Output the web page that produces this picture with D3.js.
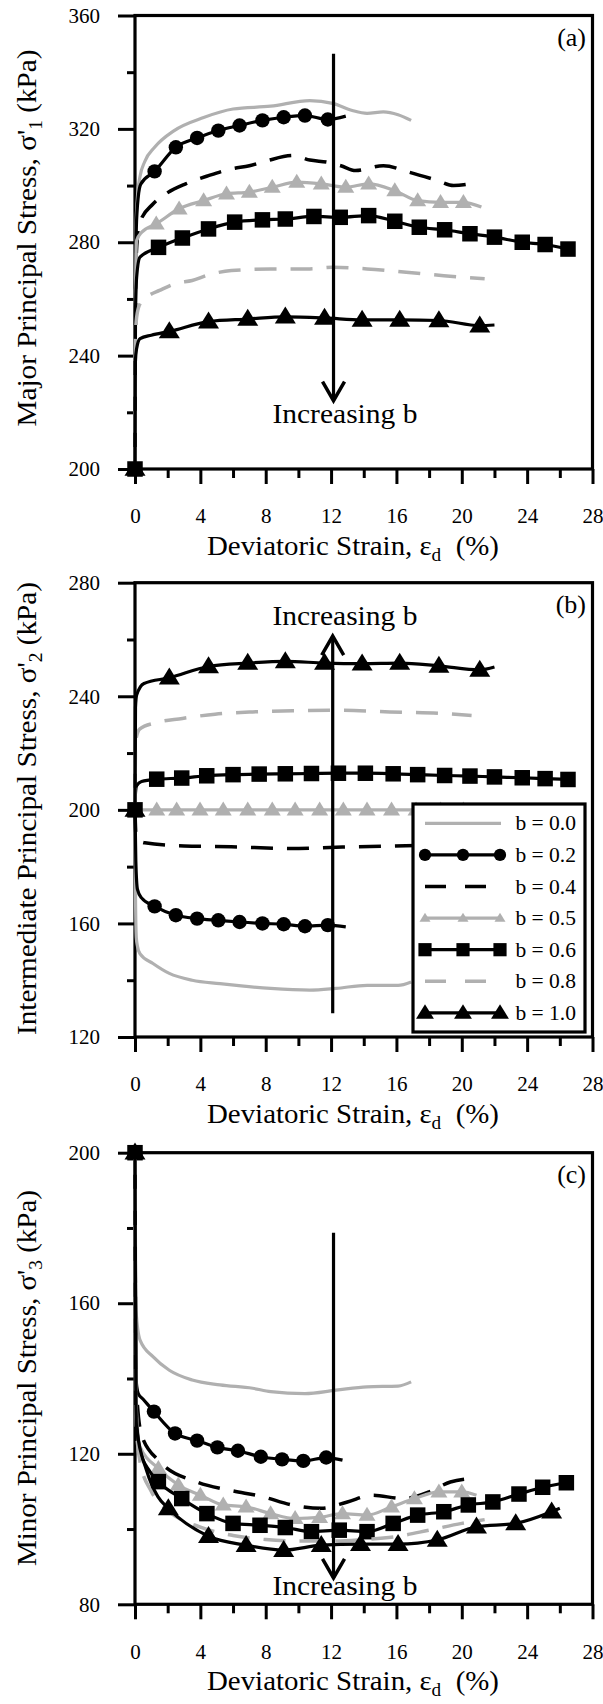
<!DOCTYPE html>
<html>
<head>
<meta charset="utf-8">
<script src="https://cdn.jsdelivr.net/npm/d3@7"></script>
<style>
  body { margin: 0; background: #fff; }
  text { font-family: "Liberation Serif", "Times New Roman", serif; fill: #000; }
</style>
</head>
<body>
<svg id="chart" width="603" height="1704"></svg>
<script>
// ---- data ----
var bLabels = ["b = 0.0", "b = 0.2", "b = 0.4", "b = 0.5", "b = 0.6", "b = 0.8", "b = 1.0"];
var xTicks = [0, 4, 8, 12, 16, 20, 24, 28];
var xMinor = [2, 6, 10, 14, 18, 22, 26];
var s1Ticks = [200, 240, 280, 320, 360], s1Minor = [220, 260, 300, 340];
var s2Ticks = [120, 160, 200, 240, 280], s2Minor = [140, 180, 220, 260];
var s3Ticks = [80, 120, 160, 200], s3Minor = [100, 140, 180];

// (a) major principal stress
var s1_b00 = [[0,200],[0.02,260],[0.06,285],[0.15,296],[0.3,303],[0.6,308.5],[1.2,313.5],[2.4,319.4],[4.2,324],[6,327],[8.3,328],[10.7,330],[12.1,329],[13.3,326.5],[14.2,325.5],[15.2,326],[16.1,325],[16.9,323]];
var s1_b02_marks = [[0,200],[1.2,305],[2.5,313.5],[3.8,316.8],[5.1,319.4],[6.4,321.2],[7.8,323],[9.1,324.1],[10.4,324.7],[11.8,323.3]];
var s1_b02_path = [[0.02,255],[0.08,285],[0.2,296],[0.35,300.5],[12.9,324.5]];
var s1_b04 = [[0,200],[0.05,270],[0.15,282],[0.3,287],[1.1,293.5],[2,297.5],[3.1,300.6],[4.5,303.5],[5.9,305.9],[7,307],[8.1,308.8],[9.7,310.6],[10.7,309],[11.8,308.2],[12.6,307],[13.5,305.3],[15.2,307],[16.8,304.7],[18.5,301.8],[19.5,300],[20.5,300.6]];
var s1_b05_marks = [[0,200],[1.3,286.5],[2.7,291.8],[4.2,294.7],[5.6,297.1],[7.0,297.7],[8.4,299.4],[9.9,301.2],[11.4,300.6],[12.9,299.4],[14.3,300.6],[15.9,298.2],[17.3,294.7],[18.7,294.1],[20.1,294.1]];
var s1_b05_path = [[0.03,262],[0.1,280.6],[0.4,283.5],[21.2,292.4]];
var s1_b06_marks = [[0,200],[1.44,278.2],[2.9,281.5],[4.5,284.7],[6.1,287.1],[7.8,287.9],[9.2,288.2],[10.95,289.1],[12.56,288.8],[14.3,289.4],[15.9,287.4],[17.4,285.3],[18.95,284.4],[20.5,283],[22.0,281.8],[23.7,280],[25.1,279.2],[26.5,277.6]];
var s1_b06_path = [[0.03,255],[0.1,267.6],[0.3,274.7]];
var s1_b08 = [[0,200],[0.02,245],[0.1,253.5],[0.3,258.2],[0.8,261],[1.5,263],[2.5,265.5],[3.5,266.5],[4.5,268.5],[5.9,270],[8.3,270.6],[10.7,270.6],[12.1,271.2],[14.2,270.6],[16.6,269.4],[18.9,268.2],[21.4,267.1]];
var s1_b10_marks = [[0,200],[2.1,248.5],[4.5,252],[6.9,252.9],[9.2,253.7],[11.6,253.3],[13.9,252.6],[16.2,252.6],[18.6,252.4],[21.1,250.6]];
var s1_b10_path = [[0.02,238],[0.1,242.5],[0.31,246],[1,247.2],[22,250.8]];

// (b) intermediate principal stress
var s2_b00 = [[0,200],[0.03,170],[0.08,155],[0.15,152],[0.3,149.4],[1.1,145.9],[2.1,142.4],[3.5,140],[5.2,138.8],[6.5,138],[8.3,137.1],[10.7,136.5],[12.3,137.1],[14.2,138.2],[16.1,138.2],[16.9,139.4]];
var s2_b02_marks = [[0,200],[1.2,166],[2.5,162.9],[3.8,161.7],[5.1,161.1],[6.4,160.5],[7.8,160],[9.1,159.7],[10.4,159],[11.8,159.4]];
var s2_b02_path = [[0.05,182],[0.15,172],[0.4,169],[12.9,158.8]];
var s2_b04 = [[0,200],[0.05,192],[0.2,189.5],[0.6,188.4],[3,187.3],[5.9,187],[9.5,186.4],[12.7,186.9],[15.4,187.2],[18,187.5],[20.6,187.8]];
var s2_b05_marks = [[0,200],[1.33,200],[2.55,200],[3.98,200],[5.4,200],[6.9,200],[8.4,200],[9.8,200],[11.3,200],[12.75,200],[14.2,200],[15.7,200],[17.2,200],[18.7,200],[20.1,200]];
var s2_b05_path = [[21.2,200]];
var s2_b06_marks = [[0,200],[1.33,210.8],[2.86,211.2],[4.39,212],[6.0,212.4],[7.6,212.6],[9.2,212.7],[10.8,212.8],[12.45,212.9],[14.1,212.9],[15.8,212.7],[17.3,212.4],[18.95,212.1],[20.5,211.9],[22.0,211.6],[23.7,211.3],[25.1,211],[26.5,210.7]];
var s2_b06_path = [[0.03,206],[0.1,208.5],[0.4,210]];
var s2_b08 = [[0,200],[0.03,222],[0.1,226],[0.3,228.5],[1.2,230.6],[2.9,232.2],[4.9,233.7],[7.2,234.5],[9.9,234.9],[12.5,235.1],[15.6,234.5],[18.9,233.9],[20.6,233.2]];
var s2_b10_marks = [[0,200],[2.1,246.5],[4.5,250.5],[6.9,251.7],[9.2,252.3],[11.6,251.7],[13.9,251.5],[16.2,251.7],[18.6,250.7],[21.1,249.3]];
var s2_b10_path = [[0.03,236],[0.1,240.4],[0.55,244.5],[22,250.3]];

// (c) minor principal stress
var s3_b00 = [[0,200],[0.03,175],[0.06,158.2],[0.31,150.2],[1.1,145.8],[2.1,142.2],[3.5,139.6],[5.2,138.3],[7.2,137.4],[8.3,136.5],[10.4,136],[12.3,136.9],[14.2,137.8],[16.1,138],[16.9,139.1]];
var s3_b02_marks = [[0,200],[1.16,131.2],[2.45,125.4],[3.8,123.5],[5.04,121.7],[6.3,120.8],[7.7,119.2],[9,118.5],[10.3,118.1],[11.7,119]];
var s3_b02_path = [[0.03,160],[0.07,139.6],[0.2,136],[0.5,134.5],[12.7,118.3]];
var s3_b04 = [[0,200],[0.05,140],[0.4,125],[1.5,118],[3.8,112.5],[5.8,110.3],[7.8,108.6],[9.6,106.4],[11.4,105.5],[13,107.2],[14.5,109],[16.4,108.1],[18,109.9],[19.3,112.5],[20.5,113.4]];
var s3_b05_marks = [[0,200],[1.43,116.1],[2.65,111.7],[4,109],[5.4,106.4],[6.8,105.9],[8.3,104.1],[9.8,102.8],[11.3,103.1],[12.7,104.1],[14.2,103.7],[15.7,105.9],[17.1,108.1],[18.6,109.9],[20,109.9]];
var s3_b05_path = [[0.05,135],[0.3,122],[20.9,109]];
var s3_b06_marks = [[0,200],[1.43,112.6],[2.86,108.1],[4.4,104.1],[6.0,101.5],[7.65,101],[9.2,100.4],[10.8,99.3],[12.5,99.7],[14.2,99.3],[15.8,101.5],[17.3,103.7],[18.9,104.6],[20.4,106.4],[21.9,107.2],[23.5,109.3],[24.95,111.1],[26.4,112.3]];
var s3_b06_path = [[0.05,132],[0.3,121],[0.8,116]];
var s3_b08 = [[0,200],[0.05,130],[0.3,118],[1,110],[2,105],[4,100.5],[6,98.3],[8,97.2],[10,96.8],[12,96.8],[14,97.2],[16,98],[18,99.7],[20,101.5],[21.4,102.5]];
var s3_b10_marks = [[0,200],[2.04,105.5],[4.5,98.1],[6.8,95.7],[9.1,94.4],[11.4,95.7],[13.8,96],[16.1,96],[18.5,97.1],[20.9,100.6],[23.3,101.5],[25.5,104.6]];
var s3_b10_path = [[0.05,135],[0.1,126.7],[0.7,115.7],[1.4,108.6],[26,105.5]];

// arrows: [x, from, to] in data units, text position [x, y]
var s1_arrow = [12.15, 346.5, 224.1], s1_note = [12.85, 216.4];
var s2_arrow = [12.1, 128.4, 261.2], s2_note = [12.85, 265.1];
var s3_arrow = [12.15, 178.7, 87.0], s3_note = [12.85, 82.4];

// ---- drawing ----
var svg = d3.select("#chart");
var GRAY = "#b0b0b0";
var DASH = "22,14";
var styles = [
  { stroke: GRAY, dash: null, marker: null },
  { stroke: "#000", dash: null, marker: "circle" },
  { stroke: "#000", dash: DASH, marker: null },
  { stroke: GRAY, dash: null, marker: "triSmall" },
  { stroke: "#000", dash: null, marker: "square" },
  { stroke: GRAY, dash: DASH, marker: null },
  { stroke: "#000", dash: null, marker: "tri" }
];

var x = d3.scaleLinear().domain([0, 28]).range([135, 592.5]);

function merge(marks, path) {
  return d3.sort(marks.concat(path), function(d) { return d[0]; });
}

var panels = [
  { top: 15.5, bottom: 469, dom: [200, 360], ticks: s1Ticks, minor: s1Minor, tag: "(a)",
    title: ["Major Principal Stress, σ'", "1", " (kPa)"], tLen: 377, tMid: 238,
    lines: [s1_b00, merge(s1_b02_marks, s1_b02_path), s1_b04, merge(s1_b05_marks, s1_b05_path), merge(s1_b06_marks, s1_b06_path), s1_b08, merge(s1_b10_marks, s1_b10_path)],
    marks: [null, s1_b02_marks, null, s1_b05_marks, s1_b06_marks, null, s1_b10_marks],
    arrow: s1_arrow, note: s1_note },
  { top: 582.7, bottom: 1037, dom: [120, 280], ticks: s2Ticks, minor: s2Minor, tag: "(b)",
    title: ["Intermediate Principal Stress, σ'", "2", " (kPa)"], tLen: 453, tMid: 808.5,
    lines: [s2_b00, merge(s2_b02_marks, s2_b02_path), s2_b04, merge(s2_b05_marks, s2_b05_path), merge(s2_b06_marks, s2_b06_path), s2_b08, merge(s2_b10_marks, s2_b10_path)],
    marks: [null, s2_b02_marks, null, s2_b05_marks, s2_b06_marks, null, s2_b10_marks],
    arrow: s2_arrow, note: s2_note, legend: true },
  { top: 1152.7, bottom: 1604.3, dom: [80, 200], ticks: s3Ticks, minor: s3Minor, tag: "(c)",
    title: ["Minor Principal Stress, σ'", "3", " (kPa)"], tLen: 376, tMid: 1378,
    lines: [s3_b00, merge(s3_b02_marks, s3_b02_path), s3_b04, merge(s3_b05_marks, s3_b05_path), merge(s3_b06_marks, s3_b06_path), s3_b08, merge(s3_b10_marks, s3_b10_path)],
    marks: [null, s3_b02_marks, null, s3_b05_marks, s3_b06_marks, null, s3_b10_marks],
    arrow: s3_arrow, note: s3_note }
];

function drawMarker(g, type, cx, cy, k) {
  k = k || 1;
  if (type === "circle") {
    g.append("circle").attr("cx", cx).attr("cy", cy).attr("r", 7.2 * k).attr("fill", "#000");
  } else if (type === "square") {
    var s = 15.5 * k;
    g.append("rect").attr("x", cx - s / 2).attr("y", cy - s / 2).attr("width", s).attr("height", s).attr("fill", "#000");
  } else if (type === "tri" || type === "triSmall") {
    var w = (type === "tri" ? 21 : 17) * k, h = (type === "tri" ? 17 : 14) * k;
    g.append("path")
      .attr("d", "M" + cx + "," + (cy - h * 0.6) + "L" + (cx + w / 2) + "," + (cy + h * 0.4) + "L" + (cx - w / 2) + "," + (cy + h * 0.4) + "Z")
      .attr("fill", type === "tri" ? "#000" : GRAY);
  }
}

panels.forEach(function(p) {
  var y = d3.scaleLinear().domain(p.dom).range([p.bottom, p.top]);
  var g = svg.append("g");

  // axes
  var xa = g.append("g").attr("transform", "translate(0," + p.bottom + ")")
    .call(d3.axisBottom(x).tickValues(xTicks).tickSize(15).tickFormat(d3.format("d")));
  xa.selectAll("text").attr("y", 39.5).attr("font-size", 21);
  var xm = g.append("g").attr("transform", "translate(0," + p.bottom + ")")
    .call(d3.axisBottom(x).tickValues(xMinor).tickSize(9).tickFormat(""));
  var ya = g.append("g").attr("transform", "translate(135,0)")
    .call(d3.axisLeft(y).tickValues(p.ticks).tickSize(17).tickFormat(d3.format("d")));
  ya.selectAll("text").attr("x", -35).attr("font-size", 21);
  var ym = g.append("g").attr("transform", "translate(135,0)")
    .call(d3.axisLeft(y).tickValues(p.minor).tickSize(8).tickFormat(""));
  [xa, xm, ya, ym].forEach(function(a) {
    a.select(".domain").remove();
    a.selectAll("line").attr("stroke", "#000").attr("stroke-width", 3);
    a.attr("font-family", null);
  });

  g.append("rect").attr("x", x(0)).attr("y", p.top)
    .attr("width", x(28) - x(0)).attr("height", p.bottom - p.top)
    .attr("fill", "none").attr("stroke", "#000").attr("stroke-width", 3.2);

  // series
  var line = d3.line().x(function(d) { return x(d[0]); }).y(function(d) { return y(d[1]); })
    .curve(d3.curveMonotoneX);
  p.lines.forEach(function(pts, i) {
    var st = styles[i];
    g.append("path").attr("d", line(pts)).attr("fill", "none")
      .attr("stroke", st.stroke).attr("stroke-width", st.dash ? 3.5 : 3.2)
      .attr("stroke-dasharray", st.dash).attr("stroke-linejoin", "round");
    if (p.marks[i]) {
      p.marks[i].forEach(function(d) { drawMarker(g, st.marker, x(d[0]), y(d[1])); });
    }
  });

  // arrow
  var ax = x(p.arrow[0]), y0 = y(p.arrow[1]), y1 = y(p.arrow[2]);
  var dir = y1 > y0 ? 1 : -1;
  g.append("line").attr("x1", ax).attr("x2", ax).attr("y1", y0).attr("y2", y1)
    .attr("stroke", "#000").attr("stroke-width", 3.2);
  g.append("path")
    .attr("d", "M" + (ax - 11) + "," + (y1 - dir * 19) + "L" + ax + "," + y1 + "L" + (ax + 11) + "," + (y1 - dir * 19))
    .attr("fill", "none").attr("stroke", "#000").attr("stroke-width", 3.5).attr("stroke-linejoin", "miter");
  g.append("text").attr("x", x(p.note[0])).attr("y", y(p.note[1]))
    .attr("text-anchor", "middle").attr("font-size", 27)
    .attr("textLength", 145).attr("lengthAdjust", "spacingAndGlyphs")
    .text("Increasing b");

  // panel tag
  g.append("text").attr("x", 586).attr("y", p.top + 30).attr("text-anchor", "end")
    .attr("font-size", 26).text(p.tag);

  // x title
  var xt = g.append("text").attr("x", 353).attr("y", p.bottom + 85.5)
    .attr("text-anchor", "middle").attr("font-size", 27).style("white-space", "pre")
    .attr("textLength", 292).attr("lengthAdjust", "spacingAndGlyphs");
  xt.append("tspan").text("Deviatoric Strain, ε");
  xt.append("tspan").attr("font-size", 18).attr("dy", 6).text("d");
  xt.append("tspan").attr("dy", -6).text("  (%)");

  // y title
  var yt = g.append("text").attr("transform", "translate(36," + p.tMid + ") rotate(-90)")
    .attr("text-anchor", "middle").attr("font-size", 27)
    .attr("textLength", p.tLen).attr("lengthAdjust", "spacingAndGlyphs");
  yt.append("tspan").text(p.title[0]);
  yt.append("tspan").attr("font-size", 18).attr("dy", 6).text(p.title[1]);
  yt.append("tspan").attr("dy", -6).text(p.title[2]);

  // legend
  if (p.legend) {
    var lg = g.append("g");
    lg.append("rect").attr("x", 413).attr("y", 804).attr("width", 172).attr("height", 228)
      .attr("fill", "#fff").attr("stroke", "#000").attr("stroke-width", 3.2);
    bLabels.forEach(function(lab, i) {
      var st = styles[i], cy = 823.3 + i * 31.6;
      lg.append("line").attr("x1", 425).attr("x2", 501).attr("y1", cy).attr("y2", cy)
        .attr("stroke", st.stroke).attr("stroke-width", st.dash ? 3.5 : 3.2)
        .attr("stroke-dasharray", st.dash ? "21,19" : null);
      if (st.marker) {
        [425, 463, 500].forEach(function(mx) {
          drawMarker(lg, st.marker, mx, cy, st.marker === "triSmall" ? 0.65 : 0.85);
        });
      }
      lg.append("text").attr("x", 576).attr("y", cy + 7).attr("text-anchor", "end")
        .attr("font-size", 21.5).text(lab);
    });
  }
});
</script>
</body>
</html>
